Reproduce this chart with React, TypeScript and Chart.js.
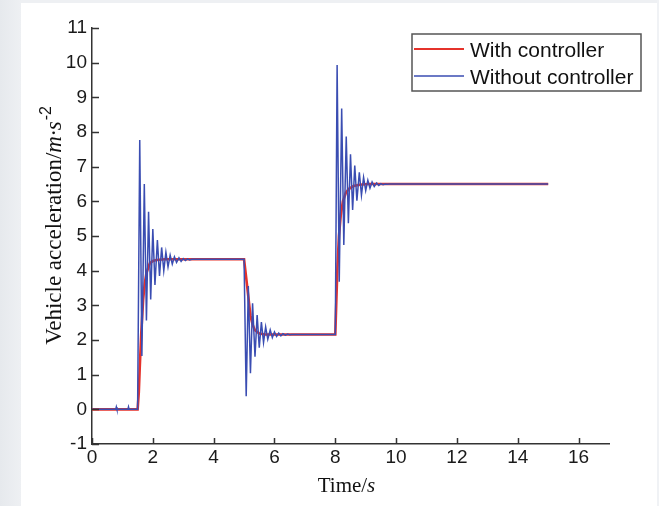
import React, { useEffect, useRef } from "react";
import { Chart, registerables } from "chart.js";

Chart.register(...registerables);

// ---- data ----
const xMin = 0;
const xMax = 17;
const xStep = 2;
const yMin = -1;
const yMax = 11;
const yStep = 1;

const seriesNames = ["With controller", "Without controller"];

// With controller (red)
const redTime = [
  0, 1.5, 1.54, 1.57, 1.62, 1.68, 1.73, 1.79, 1.9, 2.0, 2.12, 2.4,
  5.0, 5.07, 5.14, 5.21, 5.28, 5.35, 5.5, 5.7,
  8.0, 8.03, 8.07, 8.12, 8.18, 8.25, 8.35, 8.45, 8.6, 8.8, 9.1, 15,
];
const redValue = [
  0, 0, 0.5, 1.2, 2.2, 3.15, 3.6, 3.93, 4.21, 4.28, 4.31, 4.33,
  4.33, 3.8, 3.25, 2.7, 2.45, 2.29, 2.19, 2.16,
  2.16, 3.0, 4.1, 5.0, 5.6, 6.0, 6.25, 6.36, 6.44, 6.48, 6.5, 6.5,
];

// Without controller (blue)
const blueTime = [
  0, 0.78, 0.8, 0.82, 1.18, 1.2, 1.22, 1.5,
  1.57, 1.64, 1.72, 1.79, 1.86, 1.93, 2.0, 2.07, 2.15, 2.22, 2.29, 2.36, 2.43,
  2.5, 2.57, 2.64, 2.71, 2.78, 2.86, 2.93, 3.0, 3.07, 3.14, 3.21, 3.28,
  5.0, 5.07, 5.14, 5.21, 5.28, 5.36, 5.43, 5.5, 5.57, 5.64, 5.71, 5.78, 5.86,
  5.93, 6.0, 6.07, 6.14, 6.21, 6.28, 6.36, 6.43, 6.5, 6.57,
  8.0, 8.06, 8.13, 8.21, 8.28, 8.36, 8.43, 8.5, 8.57, 8.64, 8.71, 8.79, 8.86,
  8.93, 9.0, 9.07, 9.14, 9.21, 9.28, 9.36, 9.43, 9.5, 9.57, 9.64, 9.71, 9.78, 15,
];
const blueValue = [
  0, 0, 0.07, 0, 0, 0.07, 0, 0,
  7.77, 1.54, 6.5, 2.56, 5.7, 3.17, 5.2, 3.59, 4.88, 3.85, 4.67, 4.0, 4.53,
  4.11, 4.45, 4.19, 4.4, 4.24, 4.37, 4.27, 4.35, 4.29, 4.34, 4.31, 4.33,
  4.33, 0.38, 3.56, 1.04, 3.06, 1.52, 2.72, 1.78, 2.52, 1.93, 2.38, 2.02, 2.29,
  2.07, 2.23, 2.1, 2.2, 2.12, 2.18, 2.14, 2.17, 2.15, 2.16,
  2.16, 9.93, 3.68, 8.68, 4.74, 7.87, 5.37, 7.36, 5.75, 7.03, 6.02, 6.84, 6.18,
  6.69, 6.31, 6.61, 6.38, 6.56, 6.43, 6.53, 6.46, 6.51, 6.48, 6.5, 6.49, 6.5, 6.5,
];

const RED = "#e5322b";
const BLUE = "#3a4db2";
const SANS = '"Liberation Sans", Arial, sans-serif';
const SERIF = '"Liberation Serif", "Times New Roman", serif';

const toPoints = (xs: number[], ys: number[]) => xs.map((x, i) => ({ x, y: ys[i] }));

const decorPlugin = {
  id: "decor",
  beforeDraw(chart: any) {
    const { ctx, width, height } = chart;
    ctx.save();
    const g = ctx.createLinearGradient(0, 0, 21, 0);
    g.addColorStop(0, "#e6e9ed");
    g.addColorStop(1, "#eef0f3");
    ctx.fillStyle = g;
    ctx.fillRect(0, 0, width, height);
    ctx.fillStyle = "#f0f2f5";
    ctx.fillRect(657, 0, width - 657, height);
    ctx.fillStyle = "#ffffff";
    ctx.fillRect(21, 3, 636, height - 3);
    ctx.restore();
  },
  afterDraw(chart: any) {
    const { ctx, chartArea } = chart;
    const xs = chart.scales.x;
    const ys = chart.scales.y;
    ctx.save();
    // inward tick marks
    ctx.strokeStyle = "#333";
    ctx.lineWidth = 1.5;
    ctx.beginPath();
    xs.ticks.forEach((t: any) => {
      const px = Math.round(xs.getPixelForValue(t.value)) + 0.5;
      ctx.moveTo(px, chartArea.bottom);
      ctx.lineTo(px, chartArea.bottom - 6);
    });
    ys.ticks.forEach((t: any) => {
      const py = Math.round(ys.getPixelForValue(t.value)) + 0.5;
      ctx.moveTo(chartArea.left, py);
      ctx.lineTo(chartArea.left + 7, py);
    });
    ctx.stroke();

    // x title: Time/s
    ctx.fillStyle = "#111";
    ctx.textBaseline = "alphabetic";
    ctx.textAlign = "left";
    const fN = `21px ${SERIF}`;
    const fI = `italic 21px ${SERIF}`;
    ctx.font = fN;
    const a = "Time/";
    const wa = ctx.measureText(a).width;
    ctx.font = fI;
    const wb = ctx.measureText("s").width;
    const cx = (chartArea.left + chartArea.right) / 2 - 4;
    const x0 = cx - (wa + wb) / 2;
    ctx.font = fN;
    ctx.fillText(a, x0, 492);
    ctx.font = fI;
    ctx.fillText("s", x0 + wa, 492);

    // y title: Vehicle acceleration/m·s^-2
    ctx.save();
    ctx.translate(61, 226);
    ctx.rotate(-Math.PI / 2);
    const y1 = "Vehicle acceleration/";
    const y2 = "m\u00b7s";
    const y3 = "-2";
    const f1 = `23px ${SERIF}`;
    const f2 = `italic 23px ${SERIF}`;
    const f3 = `16px ${SANS}`;
    ctx.font = f1;
    const w1 = ctx.measureText(y1).width;
    ctx.font = f2;
    const w2 = ctx.measureText(y2).width;
    ctx.font = f3;
    const w3 = ctx.measureText(y3).width;
    let p = -(w1 + w2 + w3) / 2;
    ctx.font = f1;
    ctx.fillText(y1, p, 0);
    p += w1;
    ctx.font = f2;
    ctx.fillText(y2, p, 0);
    p += w2 + 1;
    ctx.font = f3;
    ctx.fillText(y3, p, -10);
    ctx.restore();

    // legend box
    const bx = 412, by = 34, bw = 229, bh = 57;
    ctx.fillStyle = "#fff";
    ctx.fillRect(bx, by, bw, bh);
    ctx.strokeStyle = "#555";
    ctx.lineWidth = 1.5;
    ctx.strokeRect(bx, by, bw, bh);
    ctx.lineWidth = 2;
    ctx.strokeStyle = RED;
    ctx.beginPath();
    ctx.moveTo(414, 49);
    ctx.lineTo(464, 49);
    ctx.stroke();
    ctx.lineWidth = 1.3;
    ctx.strokeStyle = BLUE;
    ctx.beginPath();
    ctx.moveTo(414, 76);
    ctx.lineTo(464, 76);
    ctx.stroke();
    ctx.fillStyle = "#111";
    ctx.font = `21px ${SANS}`;
    ctx.fillText(seriesNames[0], 470, 57);
    ctx.fillText(seriesNames[1], 470, 83.5);
    ctx.restore();
  },
};

export default function App() {
  const ref = useRef<HTMLCanvasElement | null>(null);

  useEffect(() => {
    if (!ref.current) return;
    const chart = new Chart(ref.current, {
      type: "line",
      data: {
        datasets: [
          {
            label: seriesNames[0],
            data: toPoints(redTime, redValue),
            borderColor: RED,
            borderWidth: 2.6,
            pointRadius: 0,
            tension: 0,
            order: 1,
          },
          {
            label: seriesNames[1],
            data: toPoints(blueTime, blueValue),
            borderColor: BLUE,
            borderWidth: 1.5,
            pointRadius: 0,
            tension: 0,
            order: 0,
          },
        ],
      },
      options: {
        responsive: false,
        animation: false,
        devicePixelRatio: 1,
        layout: { padding: { left: 0, top: 28, right: 50, bottom: 0 } },
        plugins: { legend: { display: false }, tooltip: { enabled: false } },
        scales: {
          x: {
            type: "linear",
            min: xMin,
            max: xMax,
            grid: { display: false, drawTicks: false },
            border: { display: true, color: "#333", width: 1.5 },
            ticks: {
              stepSize: xStep,
              includeBounds: false,
              padding: 2,
              color: "#1a1a1a",
              font: { family: SANS, size: 19 },
              maxRotation: 0,
            },
            afterFit: (s: any) => {
              s.height = 62;
            },
          },
          y: {
            type: "linear",
            min: yMin,
            max: yMax,
            grid: { display: false, drawTicks: false },
            border: { display: true, color: "#333", width: 1.5 },
            ticks: {
              stepSize: yStep,
              padding: 5,
              color: "#1a1a1a",
              font: { family: SANS, size: 19 },
            },
            afterFit: (s: any) => {
              s.width = 92;
            },
          },
        },
      },
      plugins: [decorPlugin],
    });
    return () => chart.destroy();
  }, []);

  return (
    <canvas
      ref={ref}
      width={659}
      height={506}
      style={{ position: "fixed", left: 0, top: 0, display: "block" }}
    />
  );
}
